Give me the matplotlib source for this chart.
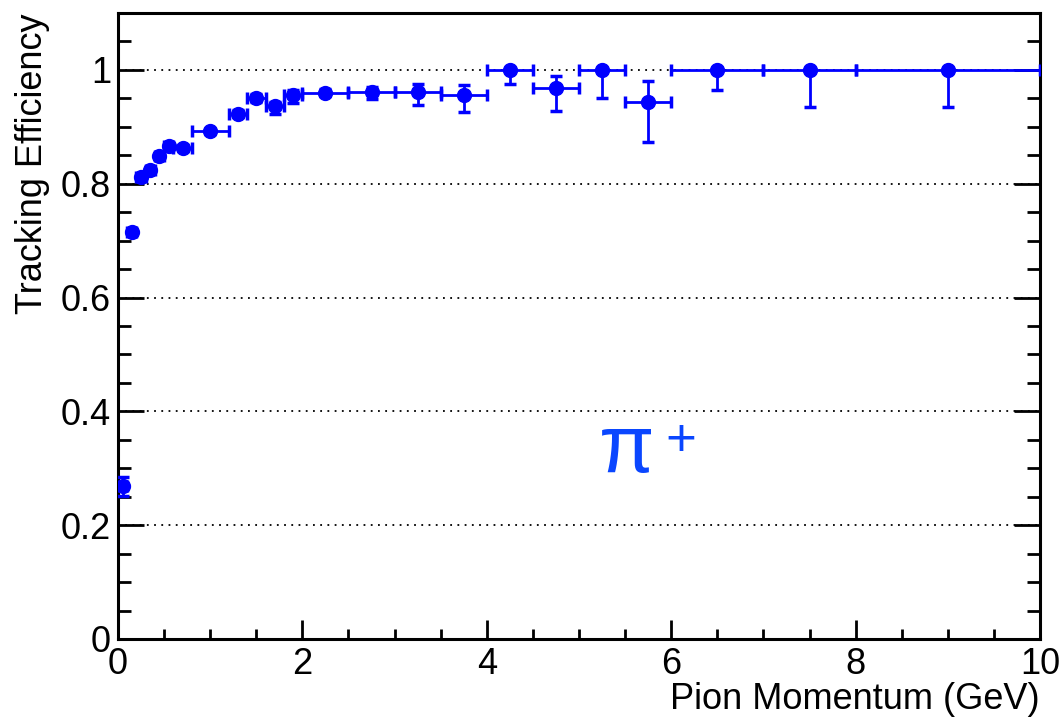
import matplotlib
matplotlib.use("Agg")
import matplotlib.pyplot as plt
from matplotlib.ticker import MultipleLocator, FuncFormatter

plt.rcParams['font.family'] = ['Liberation Sans', 'DejaVu Sans']

# bin centres and half widths (GeV)
momentum = [0.05, 0.15, 0.25, 0.35, 0.45, 0.55, 0.7, 1.0, 1.3, 1.5, 1.7, 1.9,
            2.25, 2.75, 3.25, 3.75, 4.25, 4.75, 5.25, 5.75, 6.5, 7.5, 9.0]
half_width = [0.05, 0.05, 0.05, 0.05, 0.05, 0.05, 0.1, 0.2, 0.1, 0.1, 0.1, 0.1,
              0.25, 0.25, 0.25, 0.25, 0.25, 0.25, 0.25, 0.25, 0.5, 0.5, 1.0]
efficiency = [0.268, 0.716, 0.812, 0.824, 0.848, 0.866, 0.863, 0.892, 0.923, 0.951, 0.936, 0.956,
              0.960, 0.962, 0.961, 0.955, 1.0, 0.968, 1.0, 0.944, 1.0, 1.0, 1.0]
err_low = [0.017, 0.005, 0.005, 0.005, 0.005, 0.005, 0.005, 0.005, 0.006, 0.008, 0.014, 0.015,
           0.006, 0.014, 0.022, 0.029, 0.024, 0.040, 0.050, 0.071, 0.036, 0.065, 0.065]
err_high = [0.017, 0.005, 0.005, 0.005, 0.005, 0.005, 0.005, 0.005, 0.006, 0.006, 0.008, 0.008,
            0.006, 0.008, 0.014, 0.019, 0.0, 0.021, 0.0, 0.036, 0.0, 0.0, 0.0]

fig = plt.figure(figsize=(10.62, 7.17), dpi=100)
ax = fig.add_axes([0.1111, 0.1088, 0.8682, 0.8731])

ax.errorbar(momentum, efficiency, xerr=half_width, yerr=[err_low, err_high],
            fmt='o', color='blue', markersize=10, elinewidth=2, capsize=4,
            capthick=2.5, zorder=3)

ax.set_xlim(0, 10)
ax.set_ylim(0, 1.1)

ax.xaxis.set_major_locator(MultipleLocator(2))
ax.xaxis.set_minor_locator(MultipleLocator(0.5))
ax.yaxis.set_major_locator(MultipleLocator(0.2))
ax.yaxis.set_minor_locator(MultipleLocator(0.05))
ax.yaxis.set_major_formatter(FuncFormatter(lambda v, p: '%g' % round(v, 2)))

ax.tick_params(axis='both', which='both', direction='in', width=2, labelsize=26)
ax.tick_params(axis='x', which='major', length=14, pad=6)
ax.tick_params(axis='x', which='minor', length=7)
ax.tick_params(axis='y', which='major', length=19, right=True, pad=5)
ax.tick_params(axis='y', which='minor', length=9.5, right=True)

for s in ax.spines.values():
    s.set_linewidth(2.2)

ax.yaxis.grid(True, which='major', color='black', linestyle=(0, (1, 3)), linewidth=1.3)
ax.set_axisbelow(True)

ax.set_xlabel('Pion Momentum (GeV)', fontsize=26, loc='right', labelpad=0)
ax.set_ylabel('Tracking Efficiency', fontsize=26, loc='top', labelpad=8)

ax.text(5.22, 0.293, 'π', color='#0a46ff', fontsize=58, ha='left', va='baseline')
ax.text(5.94, 0.322, '+', color='#0a46ff', fontsize=38, ha='left', va='baseline')

fig.savefig('out.png', dpi=100)
